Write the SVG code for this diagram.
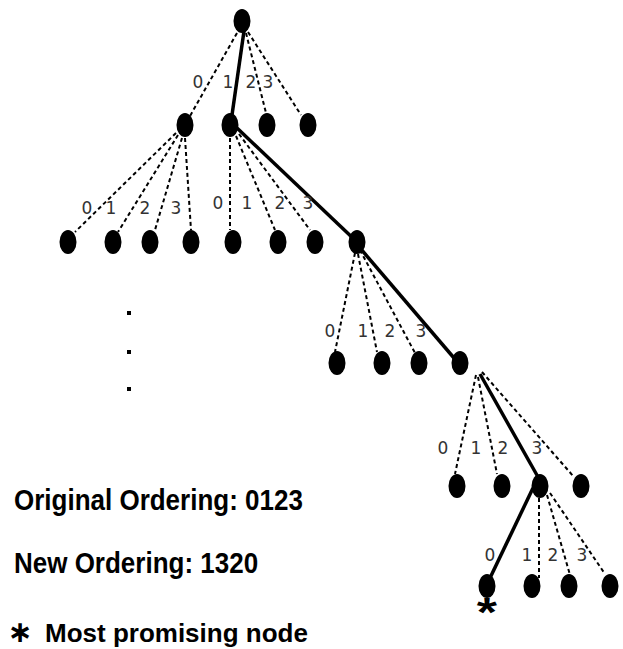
<svg xmlns="http://www.w3.org/2000/svg" width="623" height="649" viewBox="0 0 623 649">
<style>
.n{fill:#000}
.d{stroke:#000;stroke-width:2;stroke-dasharray:4 3;fill:none}
.s{stroke:#000;stroke-width:3.5;fill:none}
.l{font-family:"DejaVu Sans",sans-serif;font-size:17px;fill:#333;text-anchor:middle}
.t{font-family:"Liberation Sans",Arial,sans-serif;font-weight:bold;font-size:26px;fill:#000}
.st{font-family:"Liberation Sans",Arial,sans-serif;font-weight:bold;font-size:40px;fill:#000;text-anchor:middle}
</style>
<rect width="623" height="649" fill="#fff"/>
<g id="connectors">
<line class="d" x1="237" y1="33" x2="190" y2="116"/>
<line class="s" x1="244" y1="31" x2="232" y2="115"/>
<line class="d" x1="246" y1="33" x2="266" y2="113"/>
<line class="d" x1="248" y1="32" x2="301" y2="115"/>
<line class="d" x1="176" y1="133" x2="75" y2="232"/>
<line class="d" x1="178" y1="135" x2="118" y2="232"/>
<line class="d" x1="182" y1="138" x2="155" y2="230"/>
<line class="d" x1="185" y1="138" x2="191" y2="230"/>
<line class="d" x1="230" y1="138" x2="230" y2="230"/>
<line class="d" x1="236" y1="136" x2="275" y2="230"/>
<line class="d" x1="239" y1="134" x2="310" y2="230"/>
<line class="s" x1="237" y1="128" x2="357" y2="242"/>
<line class="d" x1="355" y1="253" x2="335" y2="352"/>
<line class="d" x1="358" y1="254" x2="377" y2="352"/>
<line class="d" x1="360" y1="250" x2="415" y2="353"/>
<line class="s" x1="360" y1="248" x2="454" y2="358"/>
<line class="d" x1="476" y1="375" x2="455" y2="474"/>
<line class="d" x1="478" y1="377" x2="497" y2="474"/>
<line class="s" x1="480" y1="374" x2="538" y2="477"/>
<line class="d" x1="482" y1="372" x2="574" y2="477"/>
<line class="s" x1="533" y1="488" x2="490" y2="578"/>
<line class="d" x1="539" y1="498" x2="539" y2="578"/>
<line class="d" x1="547" y1="495" x2="570" y2="575"/>
<line class="d" x1="550" y1="493" x2="605" y2="574"/>
</g>
<g id="root"><ellipse class="n" cx="242" cy="21" rx="8.5" ry="12"/></g>
<g id="n1-0"><ellipse class="n" cx="185" cy="125" rx="8.5" ry="12"/></g>
<g id="n1-1"><ellipse class="n" cx="230" cy="125" rx="8.5" ry="12"/></g>
<g id="n1-2"><ellipse class="n" cx="267" cy="125" rx="8.5" ry="12"/></g>
<g id="n1-3"><ellipse class="n" cx="308" cy="125" rx="8.5" ry="12"/></g>
<g id="n2-0"><ellipse class="n" cx="68" cy="242" rx="8.5" ry="12"/></g>
<g id="n2-1"><ellipse class="n" cx="113" cy="242" rx="8.5" ry="12"/></g>
<g id="n2-2"><ellipse class="n" cx="150" cy="242" rx="8.5" ry="12"/></g>
<g id="n2-3"><ellipse class="n" cx="191" cy="242" rx="8.5" ry="12"/></g>
<g id="n2-4"><ellipse class="n" cx="233" cy="242" rx="8.5" ry="12"/></g>
<g id="n2-5"><ellipse class="n" cx="278" cy="242" rx="8.5" ry="12"/></g>
<g id="n2-6"><ellipse class="n" cx="315" cy="242" rx="8.5" ry="12"/></g>
<g id="n2-7"><ellipse class="n" cx="357" cy="242" rx="8.5" ry="12"/></g>
<g id="n3-0"><ellipse class="n" cx="337" cy="363" rx="8.5" ry="12"/></g>
<g id="n3-1"><ellipse class="n" cx="382" cy="363" rx="8.5" ry="12"/></g>
<g id="n3-2"><ellipse class="n" cx="419" cy="363" rx="8.5" ry="12"/></g>
<g id="n3-3"><ellipse class="n" cx="460" cy="363" rx="8.5" ry="12"/></g>
<g id="n4-0"><ellipse class="n" cx="457" cy="486" rx="8.5" ry="12"/></g>
<g id="n4-1"><ellipse class="n" cx="502" cy="486" rx="8.5" ry="12"/></g>
<g id="n4-2"><ellipse class="n" cx="540" cy="486" rx="8.5" ry="12"/></g>
<g id="n4-3"><ellipse class="n" cx="581" cy="486" rx="8.5" ry="12"/></g>
<g id="n5-0"><ellipse class="n" cx="487" cy="586" rx="8.5" ry="12"/><text class="st" x="487" y="626" transform="translate(-146.1,0) scale(1.3,1)">*</text></g>
<g id="n5-1"><ellipse class="n" cx="532" cy="586" rx="8.5" ry="12"/></g>
<g id="n5-2"><ellipse class="n" cx="569" cy="586" rx="8.5" ry="12"/></g>
<g id="n5-3"><ellipse class="n" cx="610" cy="586" rx="8.5" ry="12"/></g>
<g id="labels">
<text class="l" x="198" y="88">0</text><text class="l" x="228" y="88">1</text><text class="l" x="251" y="88">2</text><text class="l" x="268" y="88">3</text>
<text class="l" x="87" y="214">0</text><text class="l" x="111" y="214">1</text><text class="l" x="145" y="214">2</text><text class="l" x="176" y="214">3</text>
<text class="l" x="218" y="209">0</text><text class="l" x="247" y="209">1</text><text class="l" x="280" y="209">2</text><text class="l" x="308" y="209">3</text>
<text class="l" x="330" y="337">0</text><text class="l" x="363" y="337">1</text><text class="l" x="390" y="337">2</text><text class="l" x="421" y="337">3</text>
<text class="l" x="443" y="454">0</text><text class="l" x="476" y="454">1</text><text class="l" x="503" y="454">2</text><text class="l" x="537" y="454">3</text>
<text class="l" x="490" y="561">0</text><text class="l" x="527" y="561">1</text><text class="l" x="553" y="561">2</text><text class="l" x="582" y="561">3</text>
</g>
<g id="ellipsis">
<rect x="127" y="311" width="4" height="4"/>
<rect x="127" y="350" width="4" height="4"/>
<rect x="127" y="387" width="4" height="4"/>
</g>
<g id="legend">
<text class="t" x="14" y="510" transform="translate(0,-61.2) scale(1,1.12)">Original Ordering: 0123</text>
<text class="t" x="14" y="573" transform="translate(0,-68.8) scale(1,1.12)">New Ordering: 1320</text>
<text class="t" y="642"><tspan x="20" font-family="DejaVu Sans" font-size="30" text-anchor="middle">∗</tspan><tspan x="45">Most promising node</tspan></text>
</g>
</svg>
